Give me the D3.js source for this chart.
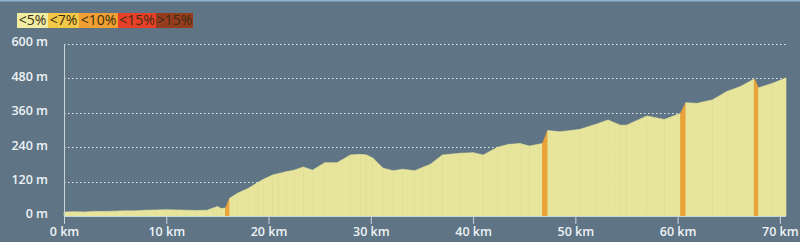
<!DOCTYPE html>
<html>
<head>
<meta charset="utf-8">
<script src="https://cdn.jsdelivr.net/npm/d3@7"></script>
<style>
  body { margin: 0; background: #5f7585; }
  svg { display: block; }
  text { font-family: "Open Sans", sans-serif; }
</style>
</head>
<body>
<svg id="profile" width="800" height="242"></svg>
<script>
// distance (km) and elevation (m)
const distances = [0, 1, 2, 3, 4, 5, 6, 7, 8, 9, 10, 11, 12, 13, 14, 14.6, 15.0, 15.4, 15.8, 16.2,
    17.0, 18.0, 19.0, 19.5, 20.4, 21.0, 21.8, 22.5, 23.4, 24.3, 25.5, 26.7, 28.0, 29.0, 29.6, 30.2,
    31.2, 32.2, 33.1, 34.3, 35.1, 35.8, 37.0, 38.7, 40.0, 41.0, 42.4, 43.5, 44.6, 45.5, 46.8, 47.3,
    48.5, 50.4, 52.1, 53.2, 54.4, 55.0, 57.0, 58.7, 60.3, 60.8, 61.9, 63.4, 64.8, 66.1, 67.5, 67.9,
    69.3, 70.6];
const elevations = [14, 15, 14, 16, 16, 17, 18, 18, 20, 21, 22, 21, 20, 19, 20, 28, 33, 26, 28, 62,
    80, 96, 118, 128, 143, 148, 155, 160, 171, 160, 186, 186, 213, 215, 213, 202,
    167, 158, 163, 158, 170, 180, 213, 219, 221, 213, 240, 250, 253, 244, 253, 298,
    294, 302, 321, 335, 317, 317, 349, 337, 358, 395, 393, 405, 434, 451, 478, 447,
    463, 482];

const yTicks = [0, 120, 240, 360, 480, 600];
const xTicks = [0, 10, 20, 30, 40, 50, 60, 70];

// gradient classes for the legend
const gradeLabels = ["<5%", "<7%", "<10%", "<15%", ">15%"];
const gradeLimits = [5, 7, 10, 15];
const gradeColors = ["#e7e49c", "#f3c846", "#eba236", "#e84028", "#963c1e"];
const legendColors = ["#f0eca2", "#f3c846", "#f0a032", "#e84028", "#963c1e"];

const svg = d3.select("#profile");
const x = d3.scaleLinear().domain([0, 70.6]).range([64, 786]);
const y = d3.scaleLinear().domain([0, 600]).range([216, 44]);

// thin light line along the top edge
svg.append("rect")
    .attr("x", 0).attr("y", 0)
    .attr("width", 800).attr("height", 1.5)
    .attr("fill", "#8fb2d2");

// dotted grid lines
svg.append("g")
    .selectAll("line")
    .data(yTicks.filter(d => d > 0))
    .enter()
    .append("line")
    .attr("x1", x(0)).attr("x2", 788)
    .attr("y1", d => Math.round(y(d)) + 0.5)
    .attr("y2", d => Math.round(y(d)) + 0.5)
    .attr("stroke", "#ffffff")
    .attr("stroke-opacity", 0.85)
    .attr("stroke-dasharray", "1.5,2.5");

// segments coloured by gradient
const segments = d3.range(distances.length - 1).map(i => {
    const grade = Math.abs(elevations[i + 1] - elevations[i]) / ((distances[i + 1] - distances[i]) * 1000) * 100;
    return { i: i, grade: grade, cls: d3.bisectRight(gradeLimits, grade) };
});

const segArea = d3.area()
    .x(d => x(d[0]))
    .y0(y(0))
    .y1(d => y(d[1]));

svg.append("g")
    .selectAll("path")
    .data(segments)
    .enter()
    .append("path")
    .attr("d", d => segArea([[distances[d.i], elevations[d.i]], [distances[d.i + 1], elevations[d.i + 1]]]))
    .attr("fill", d => gradeColors[d.cls])
    .attr("stroke", d => gradeColors[d.cls])
    .attr("stroke-width", d => d.cls > 0 ? 0.8 : 0.6);

// axes
const xAxis = svg.append("g")
    .attr("transform", `translate(0,${y(0)})`)
    .call(d3.axisBottom(x).tickValues(xTicks).tickSize(8).tickFormat(d => `${d} km`));
xAxis.select(".domain").attr("stroke", "#c9d5dd").attr("d", `M${x(0)},0.5H786`);
xAxis.selectAll(".tick line").attr("stroke", "#c9d5dd");
xAxis.selectAll(".tick text")
    .attr("y", 11)
    .attr("fill", "#eef2f5")
    .attr("font-size", 12.5)
    .attr("font-weight", 600)
    .attr("font-family", "Open Sans, sans-serif");

svg.append("line")
    .attr("x1", x(0) + 0.5).attr("x2", x(0) + 0.5)
    .attr("y1", 44).attr("y2", y(0) + 8)
    .attr("stroke", "#c9d5dd");

svg.append("g")
    .selectAll("text")
    .data(yTicks)
    .enter()
    .append("text")
    .attr("x", 48)
    .attr("y", d => y(d) - 1)
    .attr("text-anchor", "end")
    .attr("dominant-baseline", "middle")
    .attr("fill", "#eef2f5")
    .attr("font-size", 12.5)
    .attr("font-weight", 600)
    .text(d => `${d} m`);

// legend boxes
const legend = svg.append("g").attr("transform", "translate(17,13)");
const legendWidths = [31, 31, 39, 38, 37];
let lx = 0;
legendWidths.forEach((w, i) => {
    legend.append("rect")
        .attr("x", lx).attr("y", 0)
        .attr("width", w).attr("height", 15)
        .attr("fill", legendColors[i]);
    legend.append("text")
        .attr("x", lx + w / 2)
        .attr("y", 8)
        .attr("text-anchor", "middle")
        .attr("dominant-baseline", "middle")
        .attr("font-size", 14)
        .attr("fill", "#3b2c12")
        .text(gradeLabels[i]);
    lx += w;
});
</script>
</body>
</html>
